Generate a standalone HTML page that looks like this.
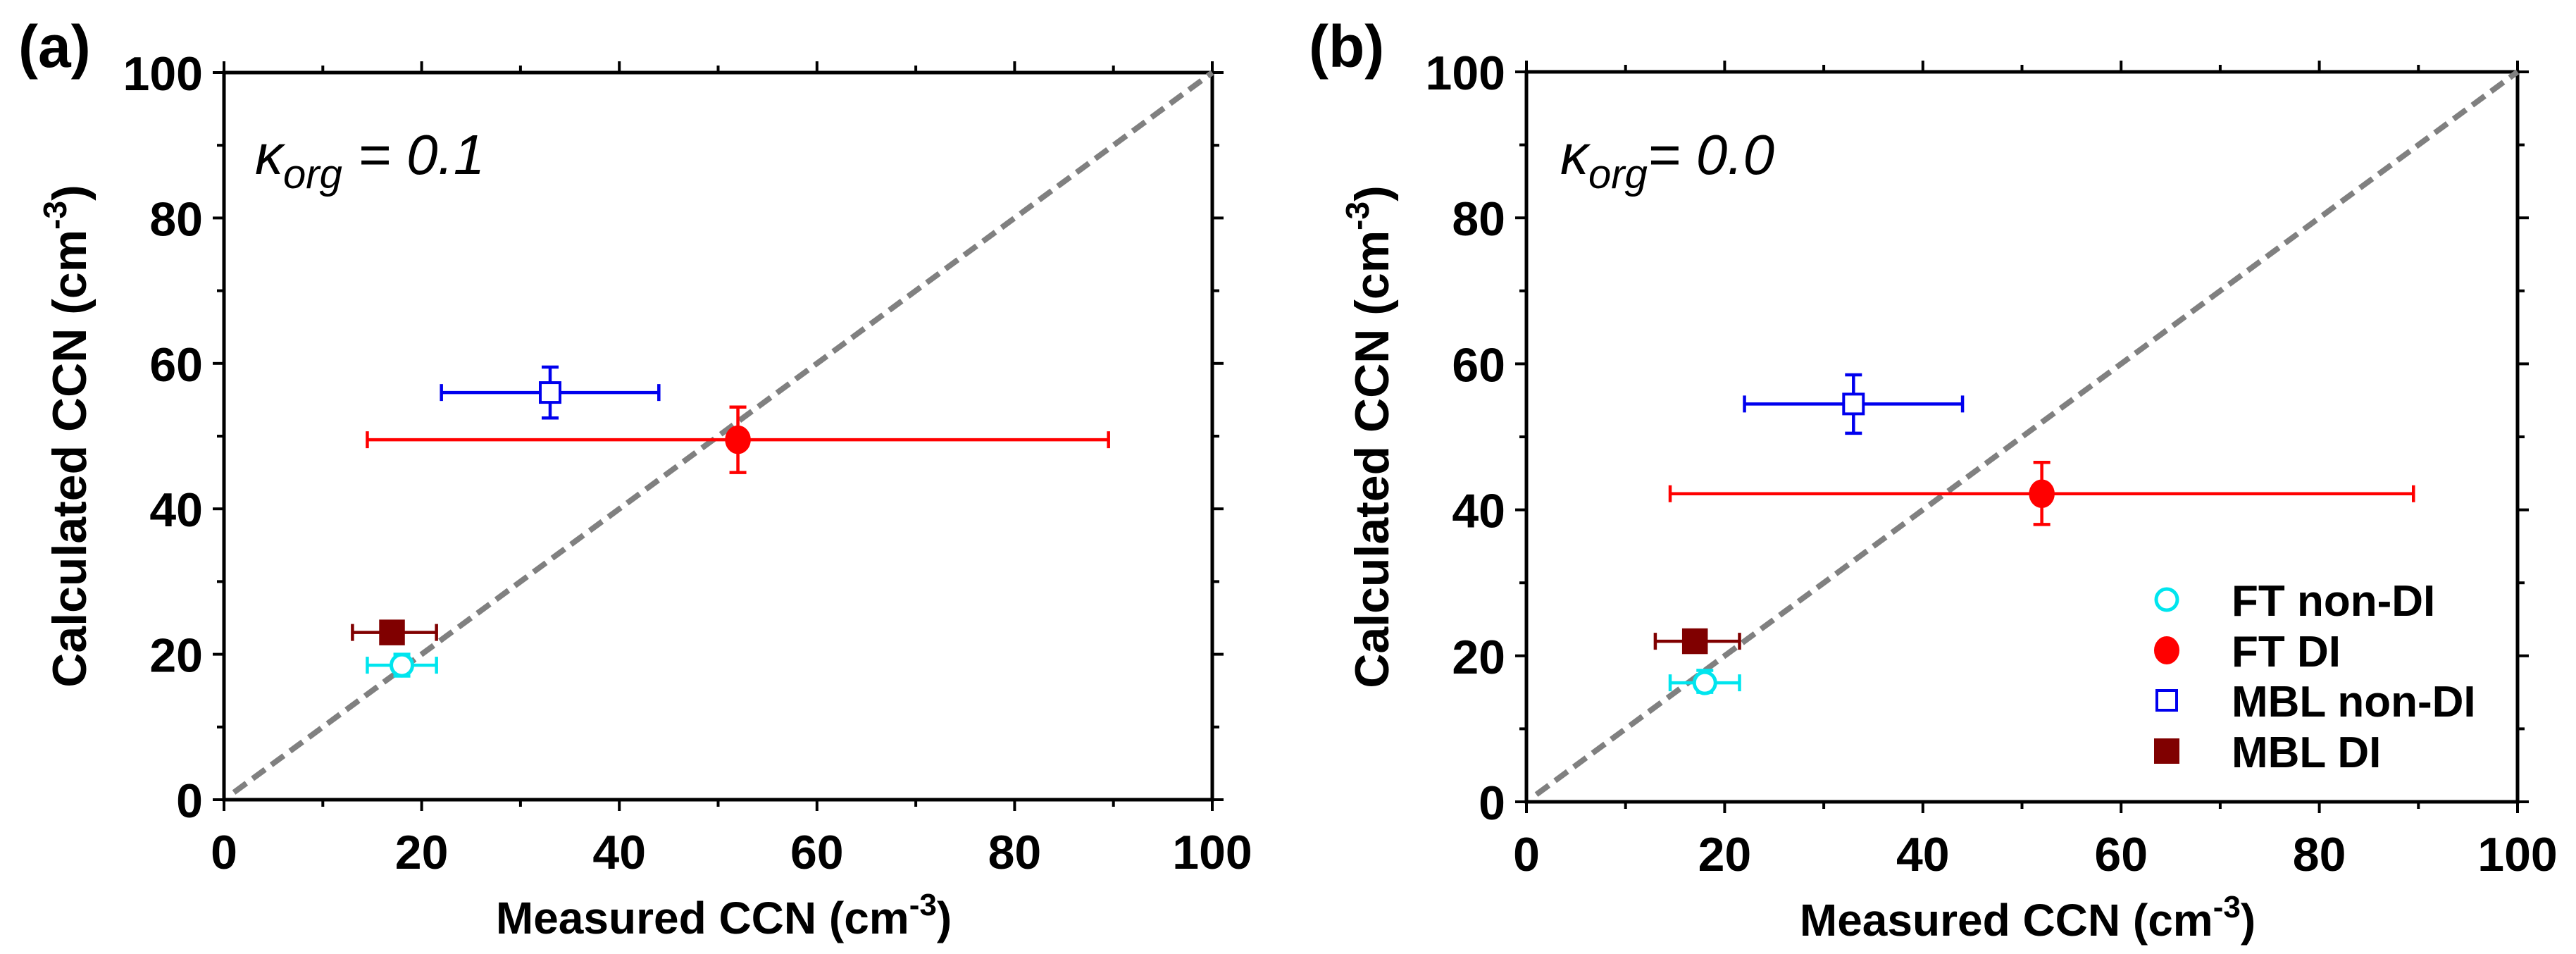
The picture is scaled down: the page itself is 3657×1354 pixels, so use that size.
<!DOCTYPE html>
<html><head><meta charset="utf-8"><style>
html,body{margin:0;padding:0;background:#fff;}
svg{display:block;font-family:"Liberation Sans",Arial,sans-serif;}
</style></head><body>
<svg id="chart" width="3657" height="1354" viewBox="0 0 3657 1354" xmlns="http://www.w3.org/2000/svg"></svg>
<script>
const seriesNames = ["FT non-DI","FT DI","MBL non-DI","MBL DI"];
const seriesColors = ["#00e5ee","#ff0000","#0000ee","#800000"];
const seriesMarkers = ["open-circle","filled-circle","open-square","filled-square"];
// panel a (kappa_org = 0.1)
const aX = [18, 52, 33, 17];
const aY = [18.5, 49.5, 56, 23];
const aXLo = [14.5, 14.5, 22, 13];
const aXHi = [21.5, 89.5, 44, 21.5];
const aYLo = [17, 45, 52.5, 22];
const aYHi = [20, 54, 59.5, 24];
// panel b (kappa_org = 0.0)
const bX = [18, 52, 33, 17];
const bY = [16.3, 42.2, 54.5, 22];
const bXLo = [14.5, 14.5, 22, 13];
const bXHi = [21.5, 89.5, 44, 21.5];
const bYLo = [15, 38, 50.5, 21];
const bYHi = [18, 46.5, 58.5, 23];
const tickLabels = ["0","20","40","60","80","100"];
const majorTicks = [0,20,40,60,80,100];
const minorTicks = [10,30,50,70,90];
const onetoone = [1, 100];

const NS="http://www.w3.org/2000/svg";
const svg=document.getElementById('chart');
function mk(tag,attrs,parent){const e=document.createElementNS(NS,tag);for(const k in attrs)e.setAttribute(k,attrs[k]);(parent||svg).appendChild(e);return e;}

function panel(cfg){
  const g=mk('g',{});
  
  
  const sx=v=>cfg.x0+(cfg.x1-cfg.x0)*v/100;
  const sy=v=>cfg.y0-(cfg.y0-cfg.y1)*v/100;
  const fr=mk('rect',{x:sx(0),y:sy(100),width:sx(100)-sx(0),height:sy(0)-sy(100),fill:'none',stroke:'#000','stroke-width':5},g);
  
  
  const tg=mk('g',{stroke:'#000','stroke-width':4},g);
  
  
  majorTicks.concat(minorTicks).forEach(v=>{
    const L=majorTicks.includes(v)?16:10;
    mk('line',{x1:sx(v),x2:sx(v),y1:sy(0),y2:sy(0)+L},tg);
    mk('line',{x1:sx(v),x2:sx(v),y1:sy(100),y2:sy(100)-L},tg);
    mk('line',{x1:sx(0),x2:sx(0)-L,y1:sy(v),y2:sy(v)},tg);
    mk('line',{x1:sx(100),x2:sx(100)+L,y1:sy(v),y2:sy(v)},tg);
  });
  majorTicks.forEach((v,i)=>{
    const tx=mk('text',{x:sx(v),y:sy(0)+98,'text-anchor':'middle','font-size':68,'font-weight':'bold'},g);
    tx.textContent=tickLabels[i];
    
    
    const ty=mk('text',{x:sx(0)-30,y:sy(v)+25,'text-anchor':'end','font-size':68,'font-weight':'bold'},g);
    ty.textContent=tickLabels[i];
    
    
  });
  const xt=mk('text',{x:(sx(0)+sx(100))/2+8,y:cfg.y0+190,'text-anchor':'middle','font-size':64,'font-weight':'bold'},g);
  xt.innerHTML='Measured CCN (cm<tspan dy="-26" font-size="44">-3</tspan><tspan dy="26">)</tspan>';
  
  
  const cx=cfg.ytx, cy=(sy(0)+sy(100))/2;
  const yt=mk('text',{x:cx,y:cy,'text-anchor':'middle','font-size':68,'font-weight':'bold',transform:`rotate(-90 ${cx} ${cy})`},g);
  yt.innerHTML='Calculated CCN (cm<tspan dy="-28" font-size="46">-3</tspan><tspan dy="28">)</tspan>';
  
  
  const pl=mk('text',{x:cfg.labx,y:95,'font-size':84,'font-weight':'bold'},g);
  pl.textContent=cfg.label;
  
  
  const kt=mk('text',{x:cfg.kx,y:247,'font-size':80,'font-style':'italic'},g);
  kt.innerHTML='κ<tspan dy="20" font-size="58">org</tspan><tspan dy="-20">'+cfg.ktext+'</tspan>';
  
  
  const dl=mk('line',{x1:sx(onetoone[0]),y1:sy(onetoone[0]),x2:sx(onetoone[1]),y2:sy(onetoone[1]),stroke:'#808080','stroke-width':8,'stroke-dasharray':'22 11'},g);
  
  
  for(let i=0;i<seriesNames.length;i++){
    const sg=mk('g',{stroke:seriesColors[i],'stroke-width':4.5,fill:'none'},g);
    
    
    const X=sx(cfg.X[i]),Y=sy(cfg.Y[i]);
    const xl=sx(cfg.XLo[i]),xh=sx(cfg.XHi[i]),yl=sy(cfg.YLo[i]),yh=sy(cfg.YHi[i]);
    const eb=mk('path',{d:`M${xl},${Y}H${xh}M${xl},${Y-12}V${Y+12}M${xh},${Y-12}V${Y+12}M${X},${yl}V${yh}M${X-12},${yl}H${X+12}M${X-12},${yh}H${X+12}`},sg);
    
    
    drawMarker(sg,seriesMarkers[i],seriesColors[i],X,Y);
  }
  if(cfg.legend){
    const lg=mk('g',{},g);
    
    
    const rows=[851,923,994,1066];
    seriesNames.forEach((n,i)=>{
      const eg=mk('g',{stroke:seriesColors[i],'stroke-width':4,fill:'none'},lg);
      
      
      drawMarker(eg,seriesMarkers[i],seriesColors[i],3076,rows[i]);
      const t=mk('text',{x:3168,y:rows[i]+23,'font-size':62,'font-weight':'bold',fill:'#000',stroke:'none'},eg);
      t.textContent=n;
    });
  }
}
function drawMarker(p,type,col,X,Y){
  let m;
  if(type==='open-circle') m=mk('circle',{cx:X,cy:Y,r:15,fill:'#fff',stroke:col,'stroke-width':5},p);
  else if(type==='filled-circle') m=mk('ellipse',{cx:X,cy:Y,rx:16,ry:18,fill:col,stroke:col},p);
  else if(type==='open-square') m=mk('rect',{x:X-14,y:Y-14,width:28,height:28,fill:'#fff',stroke:col,'stroke-width':4},p);
  else m=mk('rect',{x:X-16,y:Y-16,width:32,height:32,fill:col,stroke:col},p);
  
  
}
panel({name:'panel-a',x0:318,x1:1721,y0:1135,y1:103,X:aX,Y:aY,XLo:aXLo,XHi:aXHi,YLo:aYLo,YHi:aYHi,ytx:122,labx:26,kx:362,ktext:' = 0.1',label:'(a)',legend:false});
panel({name:'panel-b',x0:2167,x1:3574,y0:1138,y1:102,X:bX,Y:bY,XLo:bXLo,XHi:bXHi,YLo:bYLo,YHi:bYHi,ytx:1971,labx:1858,kx:2215,ktext:'= 0.0',label:'(b)',legend:true});
</script>
</body></html>
